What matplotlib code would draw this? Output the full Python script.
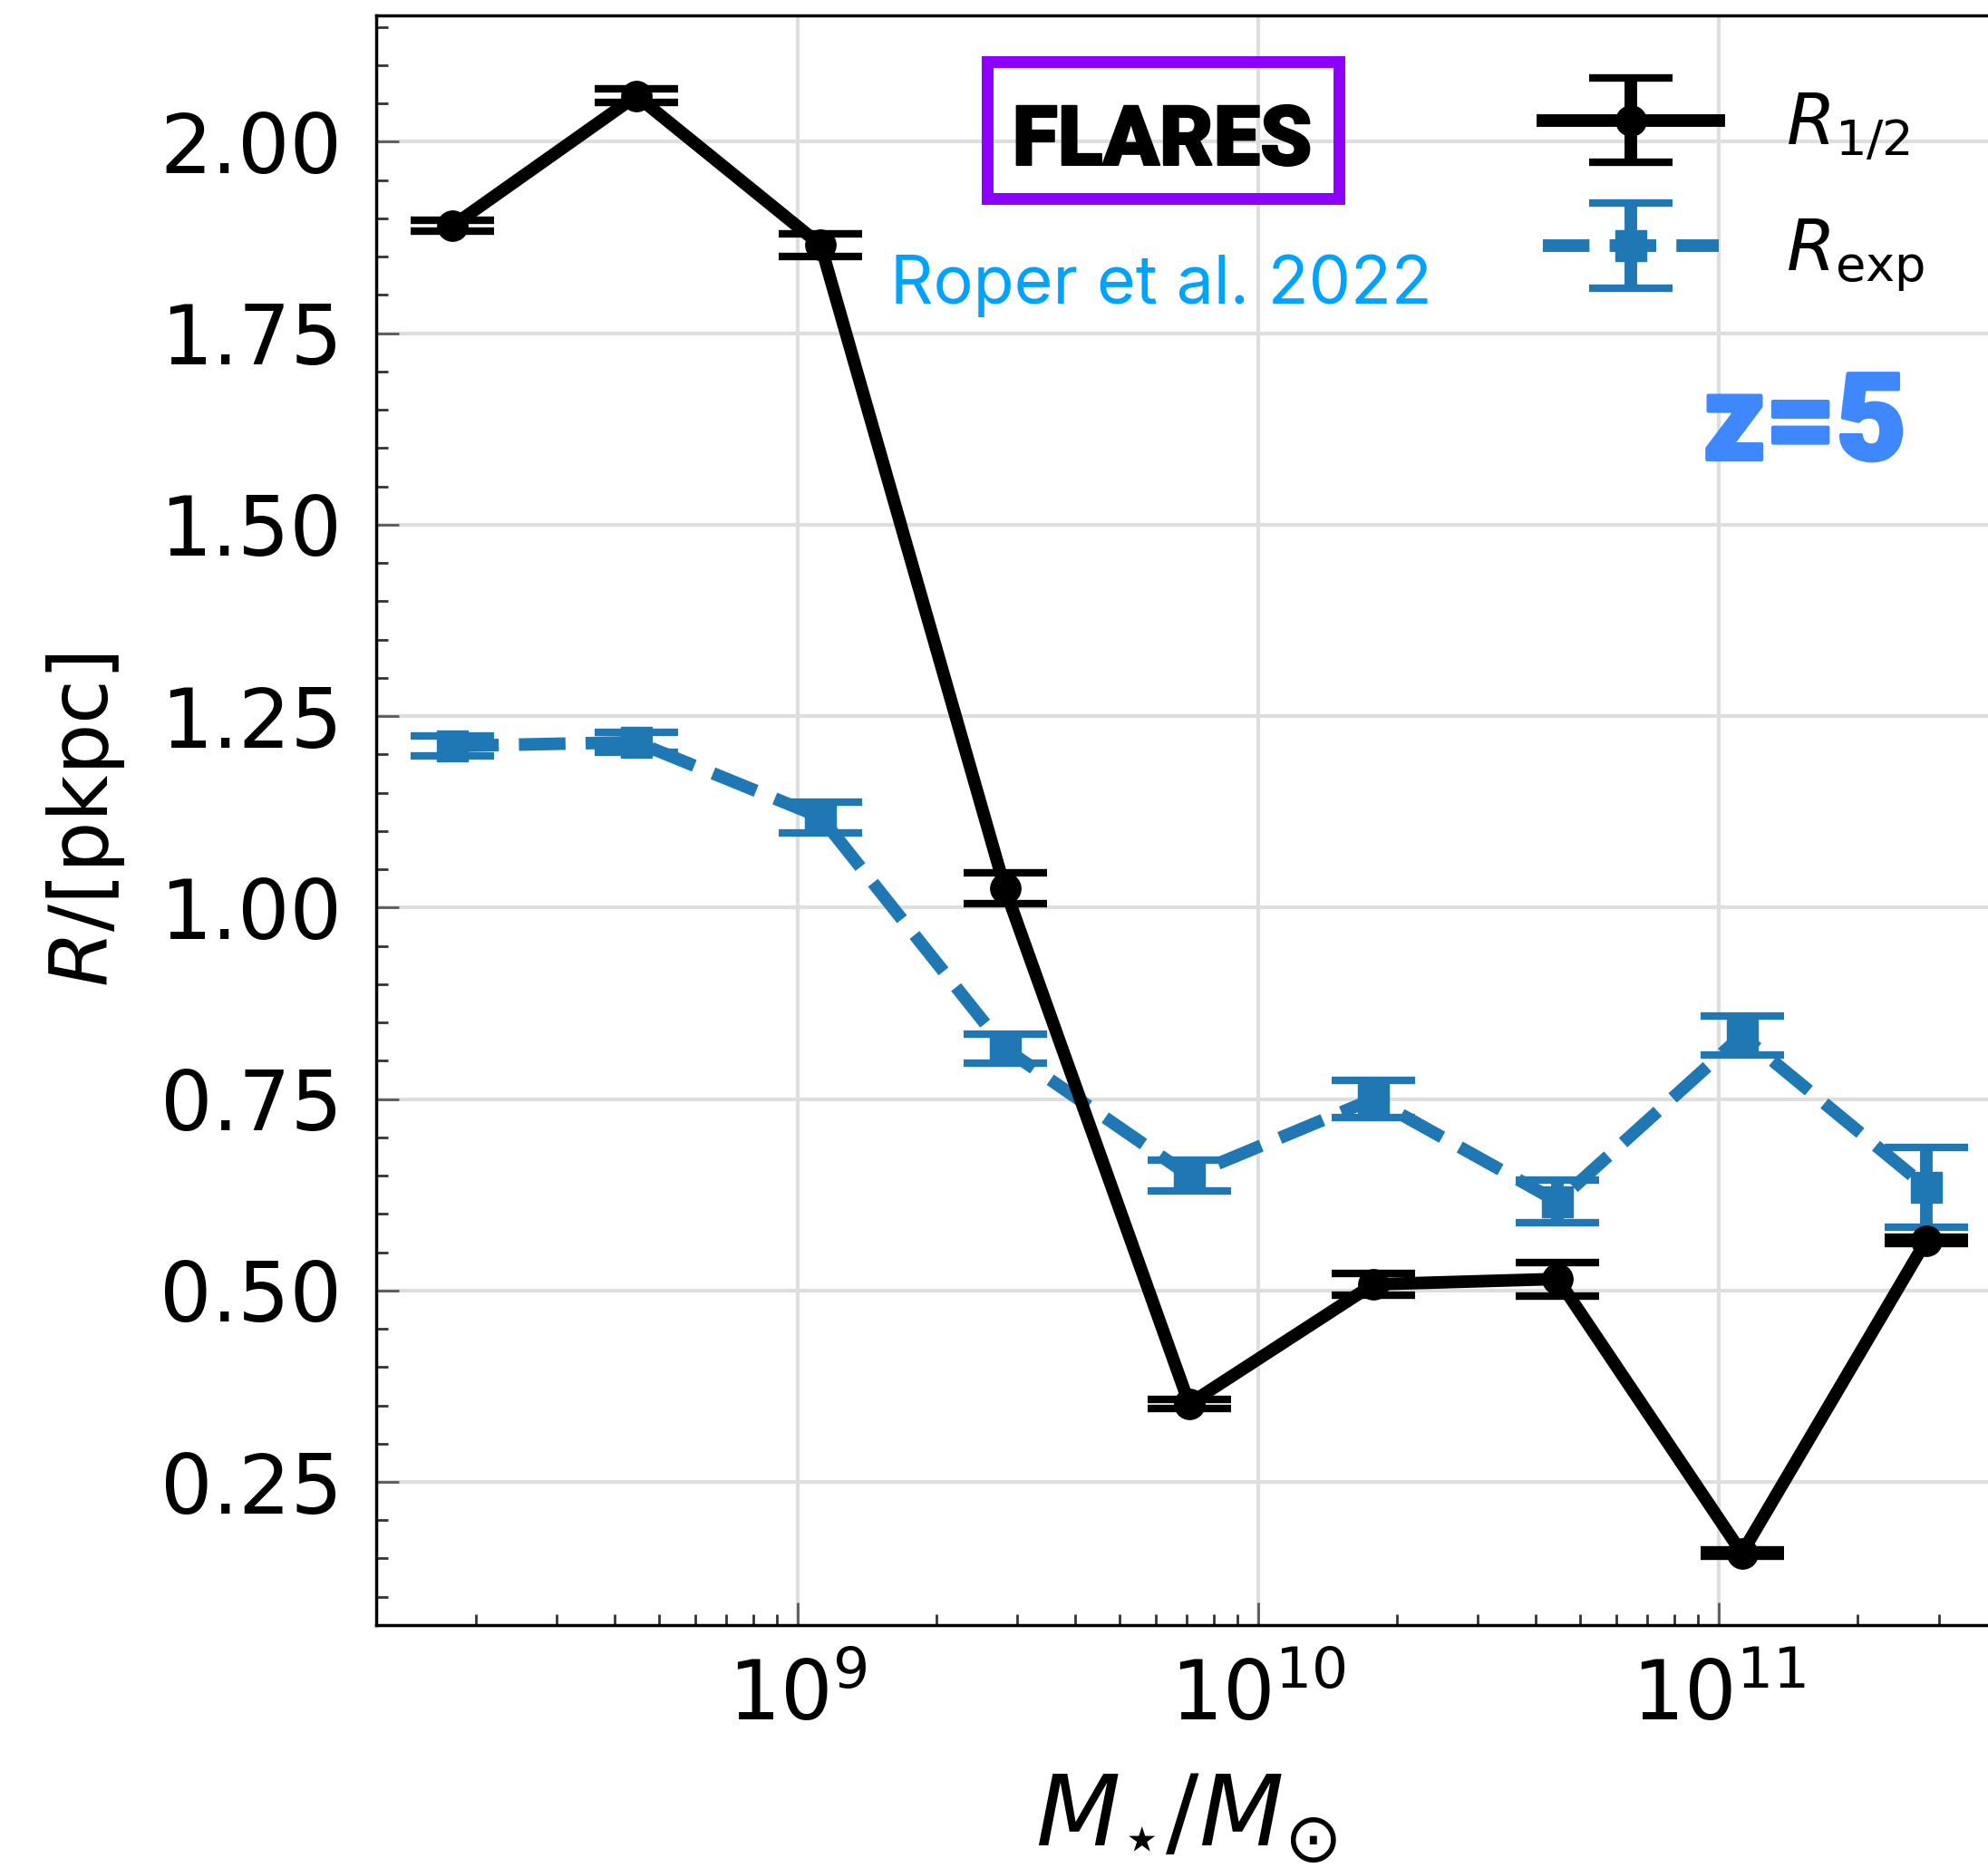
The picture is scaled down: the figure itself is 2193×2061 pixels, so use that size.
import matplotlib.pyplot as plt
from matplotlib.patches import Rectangle
from matplotlib.ticker import MultipleLocator, FormatStrFormatter
from matplotlib.legend_handler import HandlerErrorbar
from matplotlib.container import ErrorbarContainer
import matplotlib.patheffects as pe
import numpy as np

W, H, DPI = 2193, 2061, 100

# stellar mass bin centres (log10 M*/Msun)
log_mass = [8.25, 8.65, 9.05, 9.45, 9.85, 10.25, 10.65, 11.05, 11.45]

# half light radius
r_half = [1.890, 2.060, 1.865, 1.025, 0.352, 0.508, 0.515, 0.157, 0.565]
r_half_err = [0.007, 0.009, 0.015, 0.020, 0.006, 0.014, 0.022, 0.004, 0.004]

# exponential scale radius
r_exp = [1.211, 1.216, 1.118, 0.816, 0.650, 0.750, 0.616, 0.833, 0.635]
r_exp_err = [0.013, 0.013, 0.020, 0.019, 0.020, 0.024, 0.028, 0.025, 0.052]

y_major = [0.25, 0.50, 0.75, 1.00, 1.25, 1.50, 1.75, 2.00]

mass = 10 ** np.array(log_mass)

fig = plt.figure(figsize=(W / DPI, H / DPI), dpi=DPI)
# axes box in pixels (right edge runs just past the picture)
px_l, px_r, px_t, px_b = 415, 2201, 17, 1793
ax = fig.add_axes([px_l / W, 1 - px_b / H, (px_r - px_l) / W, (px_b - px_t) / H])

ax.errorbar(mass, r_half, yerr=r_half_err, color="black", marker="o", ms=24,
            lw=10, elinewidth=10, capsize=33, capthick=6, zorder=4,
            label=r"$R_{1/2}$")
ax.errorbar(mass, r_exp, yerr=r_exp_err, color="#1f77b4", marker="s", ms=24,
            ls="--", lw=10, elinewidth=10, capsize=33, capthick=6, zorder=3,
            label=r"$R_{\rm exp}$")

ax.set_xscale("log")
ax.set_xlim(10 ** 8.085, 10 ** 11.6)
ax.set_ylim(0.063, 2.165)
ax.set_yticks(y_major)
ax.yaxis.set_minor_locator(MultipleLocator(0.05))
ax.yaxis.set_major_formatter(FormatStrFormatter("%.2f"))

ax.grid(which="major", color="0.87", lw=3)
ax.set_axisbelow(True)

ax.tick_params(which="both", direction="in", top=False, right=False)
ax.tick_params(which="major", length=18, width=2, color="0.35", labelsize=65)
ax.tick_params(which="minor", length=9, width=2, color="0.2")
ax.tick_params(axis="y", pad=27)
ax.tick_params(axis="x", pad=26)
for s in ax.spines.values():
    s.set_linewidth(2.5)

ax.set_xlabel(r"$M_{\star}/M_{\odot}$", fontsize=78, labelpad=26)
ax.set_ylabel(r"$R/[\mathrm{pkpc}]$", fontsize=64, labelpad=26)

ax.legend(loc="upper left", bbox_to_anchor=(1702 / W, 1 - 100 / H),
          bbox_transform=fig.transFigure, frameon=False, fontsize=56,
          handlelength=2.5, handletextpad=0.95, borderpad=0,
          borderaxespad=0, labelspacing=0.75,
          handler_map={ErrorbarContainer: HandlerErrorbar(xerr_size=0.5, yerr_size=0.6)})

# annotations
fig.add_artist(Rectangle((1088.5 / W, 1 - 218.5 / H), 388 / W, 150 / H,
                         transform=fig.transFigure, fill=False,
                         edgecolor="#8b00ff", lw=9.4))
fig.text(1282 / W, 1 - 182 / H, "FLARES", ha="center", va="baseline",
         fontsize=66, fontweight="black", family=["Roboto", "DejaVu Sans"],
         path_effects=[pe.withStroke(linewidth=1.5, foreground="black")])
fig.text(1281 / W, 1 - 335 / H, "Roper et al. 2022", ha="center", va="baseline",
         fontsize=53, color="#00a2ff", family=["Inter", "Roboto", "DejaVu Sans"])
fig.text(1991 / W, 1 - 507 / H, "z=5", ha="center", va="baseline",
         fontsize=96, fontweight="black", color="#3f87ff",
         family=["Roboto", "DejaVu Sans"],
         path_effects=[pe.withStroke(linewidth=3, foreground="#3f87ff")])

fig.savefig("out.png", dpi=DPI)
